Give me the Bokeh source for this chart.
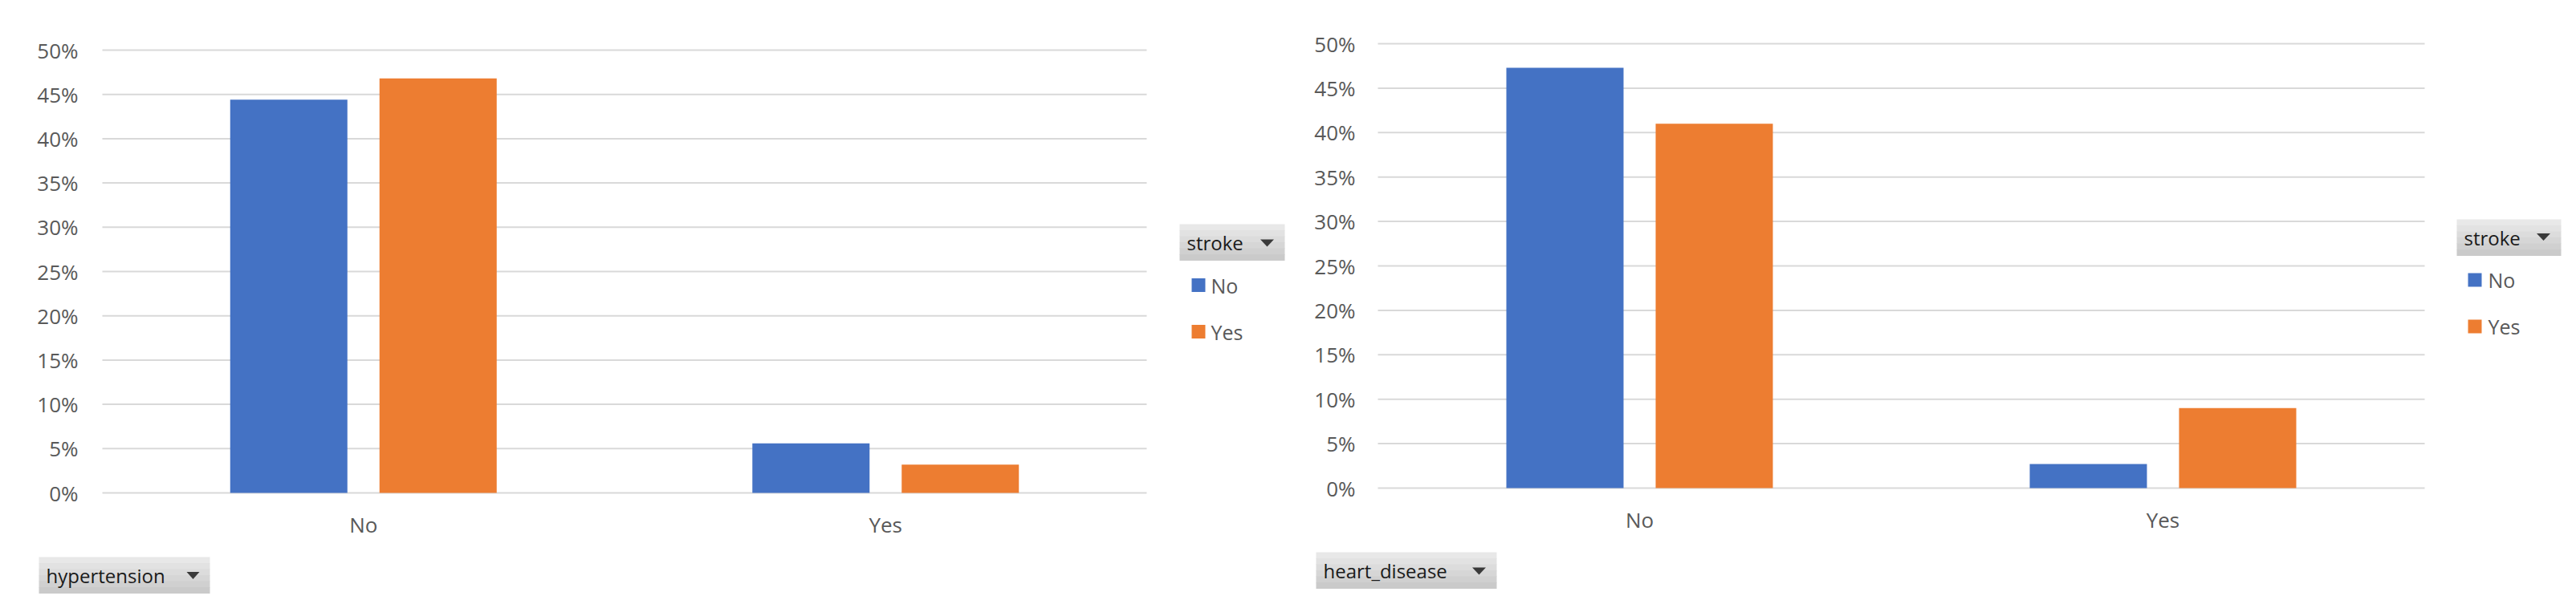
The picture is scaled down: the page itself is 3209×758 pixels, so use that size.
from bokeh.plotting import figure
from bokeh.layouts import row
from bokeh.models import Range1d, ColumnDataSource
from bokeh.core.properties import value
from bokeh.embed import file_html
from bokeh.resources import INLINE

# ---------------- data ----------------
categories = ["No", "Yes"]
stroke_levels = ["No", "Yes"]
hypertension_stroke_no = [0.444, 0.056]
hypertension_stroke_yes = [0.468, 0.032]
heart_disease_stroke_no = [0.473, 0.027]
heart_disease_stroke_yes = [0.410, 0.090]
y_ticks = [0.0, 0.05, 0.10, 0.15, 0.20, 0.25, 0.30, 0.35, 0.40, 0.45, 0.50]
y_tick_labels = [f"{round(t * 100)}%" for t in y_ticks]

# ---------------- style ----------------
FONT = "Open Sans"
BLUE = "#4472C4"
ORANGE = "#ED7D31"
GRID = "#D9D9D9"
AXIS_TEXT = "#595959"
BTN_TEXT = "#1a1a1a"
BTN_BANDS = ["#e8e8e8", "#e2e2e2", "#dcdcdc", "#d6d6d6", "#d0d0d0", "#cacaca"]
FIG_H = 756


def make_chart(field, vals_no, vals_yes, fig_x0, width, gx0, gx1, y_zero, y_fifty, lay):
    """gx0/gx1: pixel extent of the plot area; y_zero/y_fifty: pixel rows of 0% and 50%."""
    ncat = len(categories)
    ux = (gx1 - gx0) / ncat
    uy = (y_zero - y_fifty) / 0.5

    def dx(rx):
        return (rx - gx0) / ux

    def dy(ry):
        return (y_zero - ry) / uy

    p = figure(x_range=Range1d(dx(fig_x0), dx(fig_x0 + width)),
               y_range=Range1d(dy(FIG_H), dy(0)),
               width=width, height=FIG_H, output_backend="svg", toolbar_location=None,
               x_axis_type=None, y_axis_type=None,
               min_border=0, min_border_left=0, min_border_right=0,
               min_border_top=0, min_border_bottom=0,
               outline_line_color=None, background_fill_color="white",
               border_fill_color="white")
    p.xgrid.visible = False
    p.ygrid.visible = False

    # gridlines at tick values
    p.segment(x0=[0] * len(y_ticks), x1=[ncat] * len(y_ticks), y0=y_ticks, y1=y_ticks,
              line_color=GRID, line_width=2)

    # bars
    centers = [i + 0.5 for i in range(ncat)]
    bw = 146 / ux
    off = 93 / ux
    src = ColumnDataSource(dict(
        x_no=[c - off for c in centers], x_yes=[c + off for c in centers],
        no=vals_no, yes=vals_yes))
    p.vbar(x="x_no", top="no", width=bw, source=src, fill_color=BLUE, line_color=None)
    p.vbar(x="x_yes", top="yes", width=bw, source=src, fill_color=ORANGE, line_color=None)

    # y tick labels
    p.text(x=[dx(lay["ylab_right"])] * len(y_ticks), y=y_ticks, text=y_tick_labels,
           text_font=value(FONT), text_font_size="26px", text_color=AXIS_TEXT,
           text_align="right", text_baseline="middle")
    # category labels
    p.text(x=centers, y=[dy(lay["xlab_y"])] * ncat, text=categories,
           text_font=value(FONT), text_font_size="26px", text_color=AXIS_TEXT,
           text_align="center", text_baseline="middle")

    def button(text, x0, x1, y0, y1, tri_cx, tri_cy, tri_w, tri_h):
        n = len(BTN_BANDS)
        h = (y1 - y0) / n
        p.quad(left=[dx(x0)] * n, right=[dx(x1)] * n,
               top=[dy(y0 + i * h) for i in range(n)],
               bottom=[dy(y0 + (i + 1) * h + 0.6) for i in range(n)],
               fill_color=BTN_BANDS, line_color=None)
        p.text(x=[dx(x0 + 9)], y=[dy((y0 + y1) / 2)], text=[text],
               text_font=value(FONT), text_font_size="24px", text_color=BTN_TEXT,
               text_align="left", text_baseline="middle")
        p.patch(x=[dx(tri_cx - tri_w / 2), dx(tri_cx + tri_w / 2), dx(tri_cx)],
                y=[dy(tri_cy - tri_h / 2), dy(tri_cy - tri_h / 2), dy(tri_cy + tri_h / 2)],
                fill_color="#3a3a3a", line_color=None)

    button(field, *lay["field_btn"])
    button("stroke", *lay["legend_btn"])

    sq_x, sq_w, txt_x, ys = lay["legend_items"]
    p.quad(left=[dx(sq_x)] * 2, right=[dx(sq_x + sq_w)] * 2,
           top=[dy(cy - sq_w / 2) for cy in ys], bottom=[dy(cy + sq_w / 2) for cy in ys],
           fill_color=[BLUE, ORANGE], line_color=None)
    p.text(x=[dx(txt_x)] * 2, y=[dy(cy) for cy in ys], text=stroke_levels,
           text_font=value(FONT), text_font_size="25px", text_color=AXIS_TEXT,
           text_align="left", text_baseline="middle")
    return p


left_layout = dict(
    ylab_right=97, xlab_y=653,
    field_btn=(48, 261, 694, 739, 240, 717, 16, 9),
    legend_btn=(1469, 1600, 279, 324, 1578, 302.5, 17, 9),
    legend_items=(1484, 17, 1508, [355, 413]),
)
right_layout = dict(
    ylab_right=1688, xlab_y=647,
    field_btn=(1639, 1864, 688, 733, 1842, 711.5, 17, 9),
    legend_btn=(3060, 3190, 273, 318, 3168, 295, 17, 9),
    legend_items=(3074, 17, 3099, [348.5, 406.5]),
)

p1 = make_chart("hypertension", hypertension_stroke_no, hypertension_stroke_yes,
                0, 1604, 127, 1428, 614, 62, left_layout)
p2 = make_chart("heart_disease", heart_disease_stroke_no, heart_disease_stroke_yes,
                1604, 1600, 1716, 3020, 608, 54, right_layout)

layout = row(p1, p2, spacing=0)
open("out.html", "w").write(file_html(layout, INLINE))
